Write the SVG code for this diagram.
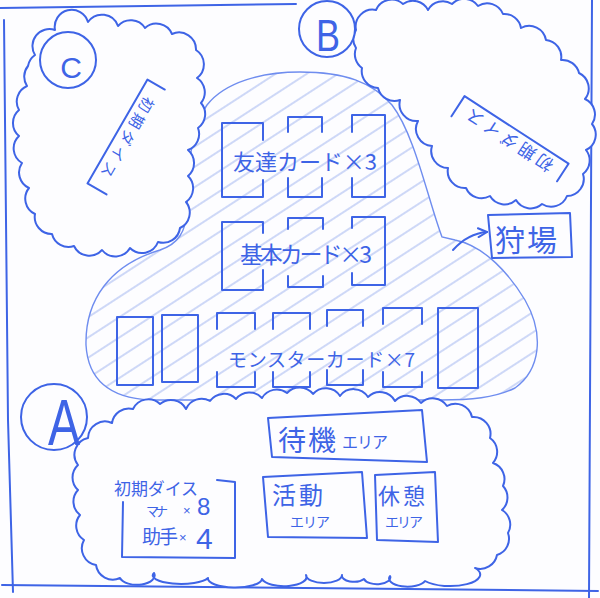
<svg xmlns="http://www.w3.org/2000/svg" width="600" height="598" viewBox="0 0 600 598">
<defs>
<style>
.ink{fill:none;stroke:#3e64e6;stroke-width:2;stroke-linecap:round;stroke-linejoin:round}
.cloud{fill:#fdfdff;stroke:#3e64e6;stroke-width:2;stroke-linejoin:round}
.circ{fill:#fdfdff;stroke:#3e64e6;stroke-width:2}
.t{font-family:"Noto Sans CJK JP","Noto Sans CJK SC",sans-serif;fill:#3e64e6}
.l{font-family:"Liberation Sans",sans-serif;fill:#3e64e6}
</style>
<pattern id="hatch" patternUnits="userSpaceOnUse" width="40" height="17" patternTransform="rotate(-33)">
<line x1="0" y1="8" x2="40" y2="8" stroke="#9fb3ef" stroke-width="1.1"/>
</pattern>
<marker id="arrow" viewBox="0 0 10 10" refX="9" refY="5" markerWidth="11" markerHeight="11" markerUnits="userSpaceOnUse" orient="auto">
<path d="M1,1 L9,5 L1,9" fill="none" stroke="#3e64e6" stroke-width="1.8" stroke-linecap="round"/>
</marker>
</defs>
<rect width="600" height="598" fill="#fdfdff"/>

<g id="frame" class="ink">
<path d="M0,8 L296,4"/>
<path d="M4,20 L8,420 L13,592"/>
<path d="M2,585 L598,591"/>
<path d="M592,0 L589,598"/>
</g>

<g id="field">
<path d="M207,105 C225,82 262,72 300,72 C345,72 372,82 392,105 C415,135 428,200 442,237 L455,240 C485,246 510,275 525,300 C545,335 540,370 515,388 C495,398 470,400 440,400 L150,400 C110,398 88,380 86,345 C85,300 110,265 160,250 C178,244 186,232 187,210 C188,170 190,130 207,105 Z" fill="url(#hatch)" stroke="#6f8def" stroke-width="1.4"/>
</g>

<g id="player-c">
<path class="cloud" d="M35,55 A17 17 0 0 1 55,30 A17 17 0 0 1 88,22 A17 17 0 0 1 118,26 A17 17 0 0 1 145,28 A17 17 0 0 1 172,34 A17 17 0 0 1 196,50 A17 17 0 0 1 197,78 A17 17 0 0 1 201,103 A17 17 0 0 1 198,128 A17 17 0 0 1 188,150 A17 17 0 0 1 188,176 A17 17 0 0 1 186,202 A17 17 0 0 1 180,228 A17 17 0 0 1 158,242 A17 17 0 0 1 130,248 A17 17 0 0 1 102,250 A17 17 0 0 1 74,246 A17 17 0 0 1 52,234 A17 17 0 0 1 35,214 A17 17 0 0 1 29,188 A17 17 0 0 1 22,163 A17 17 0 0 1 19,136 A17 17 0 0 1 19,110 A17 17 0 0 1 27,86 A17 17 0 0 1 28,66 A17 17 0 0 1 35,55 Z"/>
<circle class="circ" cx="68" cy="60" r="28"/>
<text class="l" x="71" y="78" font-size="30" text-anchor="middle">C</text>
<g transform="translate(127,137) rotate(120)">
<path class="ink" d="M-60,-9 L-60,11 L60,11 L60,-11"/>
<text class="t" x="0" y="5" font-size="15" text-anchor="middle" textLength="90">初期ダイス</text>
</g>
</g>

<g id="player-b">
<path class="cloud" d="M356,30 A17 17 0 0 1 376,10 A17 17 0 0 1 403,4 A17 17 0 0 1 428,10 A17 17 0 0 1 452,4 A17 17 0 0 1 478,6 A17 17 0 0 1 503,14 A17 17 0 0 1 521,28 A17 17 0 0 1 546,40 A17 17 0 0 1 561,60 A17 17 0 0 1 579,73 A17 17 0 0 1 585,99 A17 17 0 0 1 592,124 A17 17 0 0 1 586,150 A17 17 0 0 1 583,174 A17 17 0 0 1 567,196 A17 17 0 0 1 542,204 A17 17 0 0 1 516,200 A17 17 0 0 1 490,196 A17 17 0 0 1 466,188 A17 17 0 0 1 448,168 A17 17 0 0 1 432,146 A17 17 0 0 1 418,121 A17 17 0 0 1 400,100 A17 17 0 0 1 378,88 A17 17 0 0 1 362,68 A17 17 0 0 1 356,48 A17 17 0 0 1 356,30 Z"/>
<circle class="circ" cx="327" cy="29" r="28"/>
<text class="l" x="316" y="51" font-size="44" textLength="24" lengthAdjust="spacingAndGlyphs">B</text>
<g transform="translate(510,140) rotate(213)">
<path class="ink" d="M-62,-9 L-62,12 L62,12 L62,-12"/>
<text class="t" x="0" y="6" font-size="17" text-anchor="middle" textLength="100">初期ダイス</text>
</g>
</g>

<g id="friend-cards" class="ink">
<path d="M263,140 L263,123 L222,123 L222,197 L263,197 L263,180"/>
<path d="M288,132 L288,117 L322,117 L322,132 M288,178 L288,197 L322,197 L322,178"/>
<path d="M352,132 L352,115 L385,115 L385,197 L352,197 L352,178"/>
</g>
<text class="t" x="233" y="170" font-size="22" textLength="144">友達カード×3</text>

<g id="basic-cards" class="ink">
<path d="M263,233 L263,222 L222,222 L222,290 L263,290 L263,270"/>
<path d="M288,229 L288,218 L323,218 L323,229 M288,276 L288,287 L323,287 L323,276"/>
<path d="M352,228 L352,217 L385,217 L385,285 L352,285 L352,273"/>
</g>
<text class="t" x="240" y="263" font-size="23" textLength="132">基本カード×3</text>

<g id="monster-cards" class="ink">
<rect x="117" y="317" width="36" height="68"/>
<rect x="162" y="315" width="36" height="67"/>
<path d="M217,329 L217,313 L255,313 L255,329 M217,372 L217,387 L255,387 L255,372"/>
<path d="M273,329 L273,313 L310,313 L310,329 M273,372 L273,387 L310,387 L310,372"/>
<path d="M327,326 L327,310 L363,310 L363,326 M327,370 L327,385 L363,385 L363,370"/>
<path d="M383,324 L383,308 L422,308 L422,324 M383,372 L383,387 L422,387 L422,372"/>
<rect x="438" y="308" width="40" height="80"/>
</g>
<text class="t" x="228" y="367" font-size="19" textLength="187">モンスターカード×7</text>

<g id="hunting-ground">
<path class="ink" d="M488,215 L570,213 L572,257 L492,258 Z"/>
<text class="t" x="495" y="251" font-size="30" textLength="62">狩場</text>
</g>

<g id="connectors">
<path class="ink" d="M453,250 C462,240 474,233 487,232" marker-end="url(#arrow)"/>
</g>

<g id="player-a">
<path class="cloud" d="M88,438 A17 17 0 0 1 112,423 A17 17 0 0 1 133,409 A17 17 0 0 1 160,404 A17 17 0 0 1 186,409 A17 17 0 0 1 210,401 A17 17 0 0 1 236,399 A17 17 0 0 1 262,398 A17 17 0 0 1 287,393 A17 17 0 0 1 313,394 A17 17 0 0 1 340,396 A17 17 0 0 1 368,397 A17 17 0 0 1 395,401 A17 17 0 0 1 421,403 A17 17 0 0 1 447,406 A17 17 0 0 1 472,417 A17 17 0 0 1 490,438 A17 17 0 0 1 493,463 A17 17 0 0 1 503,486 A17 17 0 0 1 502,510 A17 17 0 0 1 508,533 A17 17 0 0 1 497,555 A17 17 0 0 1 475,568 A26 10 0 0 1 425,581 A18 8 0 0 1 390,576 A12 6 0 0 1 364,579 A12 6 0 0 1 342,575 A18 8 0 0 1 306,575 A22 9 0 0 1 262,579 A27 9 0 0 1 208,578 A27 8 0 0 1 154,573 A17 9 0 0 1 120,578 A17 17 0 0 1 96,565 A17 17 0 0 1 84,540 A17 17 0 0 1 80,515 A17 17 0 0 1 78,490 A17 17 0 0 1 78,465 A17 17 0 0 1 88,438 Z"/>
<circle class="circ" cx="54" cy="417" r="33"/>
<text class="l" x="48" y="445" font-size="64" textLength="32" lengthAdjust="spacingAndGlyphs">A</text>
</g>

<g id="waiting-area">
<path class="ink" d="M268,418 L422,410 L427,462 L272,457 Z"/>
<text class="t" x="278" y="451" font-size="28" textLength="58">待機</text>
<text class="t" x="342" y="448" font-size="16" textLength="46">エリア</text>
</g>

<g id="active-area">
<path class="ink" d="M263,477 L362,472 L367,538 L268,537 Z"/>
<text class="t" x="272" y="504" font-size="24" textLength="51">活動</text>
<text class="t" x="290" y="527" font-size="14" textLength="40">エリア</text>
</g>

<g id="rest-area">
<path class="ink" d="M375,475 L435,472 L438,542 L377,540 Z"/>
<text class="t" x="378" y="504" font-size="22" textLength="47">休憩</text>
<text class="t" x="385" y="527" font-size="14" textLength="38">エリア</text>
</g>

<g id="initial-dice">
<path class="ink" d="M217,480 L235,482 L235,558 L122,557 L123,502"/>
<text class="t" x="114" y="495" font-size="17" textLength="84">初期ダイス</text>
<text class="t" x="146" y="516" font-size="13" textLength="22">マナ</text>
<text class="l" x="183" y="515" font-size="13">×</text>
<text class="l" x="197" y="515" font-size="24">8</text>
<text class="t" x="142" y="544" font-size="19" textLength="36">助手</text>
<text class="l" x="179" y="542" font-size="13">×</text>
<text class="l" x="196" y="549" font-size="30">4</text>
</g>
</svg>
